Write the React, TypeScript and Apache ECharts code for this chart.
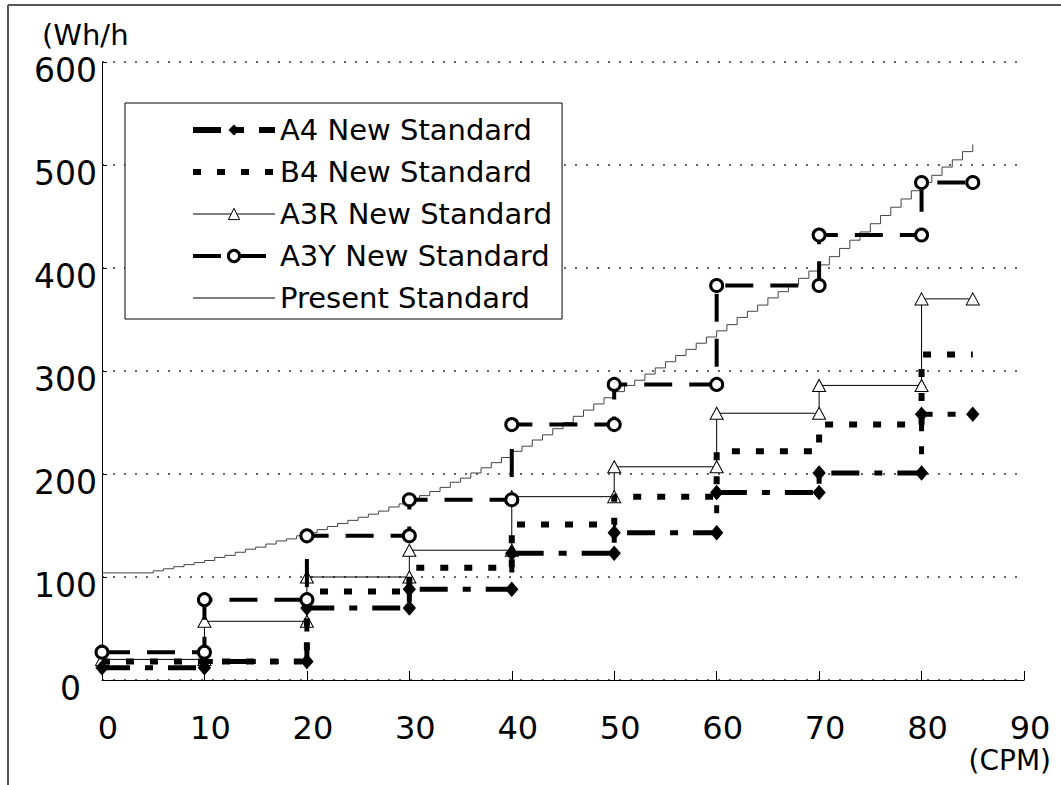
import { useEffect, useRef } from "react";
import * as echarts from "echarts";

// Step boundaries (CPM) for the new-standard categories
const CPM_EDGES = [0, 10, 20, 30, 40, 50, 60, 70, 80, 85];

// Values (Wh/h) of each step, one per interval between edges
const A4_NEW = [12, 18, 70, 88, 123, 143, 182, 201, 258];
const B4_NEW = [18, 18, 86, 109, 151, 178, 222, 248, 316];
const A3R_NEW = [20, 57, 100, 126, 178, 207, 259, 286, 370];
const A3Y_NEW = [27, 78, 140, 175, 248, 287, 383, 432, 483];

// Present standard, value at each integer CPM 0..85
const PRESENT = [
  104, 104, 104, 104, 104, 106, 108, 110, 112, 114,
  116, 119, 121, 124, 127, 129, 132, 135, 137, 140,
  143, 146, 149, 152, 155, 158, 161, 164, 168, 171,
  175, 179, 183, 187, 192, 196, 201, 206, 211, 216,
  222, 227, 233, 238, 244, 250, 256, 262, 268, 274,
  280, 286, 291, 297, 303, 309, 315, 321, 327, 333,
  339, 345, 352, 358, 364, 371, 377, 384, 390, 397,
  403, 411, 419, 427, 435, 443, 451, 459, 467, 475,
  483, 490, 498, 505, 513, 520,
];

const SERIES_NAMES = [
  "A4 New Standard",
  "B4 New Standard",
  "A3R New Standard",
  "A3Y New Standard",
  "Present Standard",
];

const Y_UNIT = "(Wh/h";
const X_UNIT = "(CPM)";

const FONT = "DejaVu Sans";

const A4_DASH = [28, 15, 8, 15];
const B4_DASH = [8, 16];
const A3Y_DASH = [28, 17];

function stepPoints(values: number[]): number[][] {
  const pts: number[][] = [];
  values.forEach((v, i) => {
    pts.push([CPM_EDGES[i], v]);
    pts.push([CPM_EDGES[i + 1], v]);
  });
  return pts;
}

const HIDDEN_SYMBOL = {
  color: "rgba(0,0,0,0)",
  borderColor: "rgba(0,0,0,0)",
  borderWidth: 0,
  opacity: 0,
};

export default function App() {
  const ref = useRef<HTMLDivElement>(null);

  useEffect(() => {
    if (!ref.current) return;
    const chart = echarts.init(ref.current, undefined, { renderer: "svg" });

    const option: any = {
      animation: false,
      backgroundColor: "#fff",
      textStyle: { fontFamily: FONT, color: "#000" },
      grid: { left: 102, right: 37, top: 62, bottom: 105 },
      xAxis: {
        type: "value",
        min: 0,
        max: 90,
        interval: 10,
        axisLine: { show: true, lineStyle: { color: "#000", width: 1 } },
        axisTick: { show: true, inside: true, length: 9, lineStyle: { color: "#000" } },
        axisLabel: {
          fontSize: 32,
          color: "#000",
          margin: 32,
          fontFamily: FONT,
          padding: [0, 0, 0, 12],
        },
        splitLine: { show: false },
      },
      yAxis: {
        type: "value",
        min: 0,
        max: 600,
        interval: 100,
        axisLine: { show: true, lineStyle: { color: "#000", width: 1 } },
        axisTick: { show: true, inside: true, length: 5, lineStyle: { color: "#000" } },
        axisLabel: {
          fontSize: 33,
          color: "#000",
          margin: 5,
          fontFamily: FONT,
          verticalAlign: "top",
          lineHeight: 16,
          formatter: (v: number) => (v === 0 ? "{z|0}" : String(v)),
          rich: {
            z: {
              fontSize: 33,
              fontFamily: FONT,
              color: "#000",
              lineHeight: 16,
              padding: [0, 16, 0, 0],
            },
          },
        },
        splitLine: {
          show: true,
          lineStyle: { color: "#666", width: 2, type: [2, 9] },
        },
      },
      legend: {
        orient: "vertical",
        align: "left",
        left: 125,
        top: 103,
        padding: [12, 10, 6, 65],
        itemWidth: 82,
        itemHeight: 14,
        itemGap: 12,
        backgroundColor: "#fff",
        borderColor: "#000",
        borderWidth: 1,
        borderRadius: 0,
        textStyle: { fontSize: 29, color: "#000", fontFamily: FONT, lineHeight: 30 },
        data: [
          {
            name: SERIES_NAMES[0],
            lineStyle: { color: "#000", width: 6, type: A4_DASH },
            itemStyle: { color: "#000", borderColor: "#000" },
          },
          {
            name: SERIES_NAMES[1],
            lineStyle: { color: "#000", width: 6, type: B4_DASH },
            itemStyle: HIDDEN_SYMBOL,
          },
          {
            name: SERIES_NAMES[2],
            lineStyle: { color: "#000", width: 1, type: "solid" },
            itemStyle: { color: "#fff", borderColor: "#000", borderWidth: 1 },
          },
          {
            name: SERIES_NAMES[3],
            lineStyle: { color: "#000", width: 4, type: A3Y_DASH },
            itemStyle: { color: "#fff", borderColor: "#000", borderWidth: 3 },
          },
          {
            name: SERIES_NAMES[4],
            lineStyle: { color: "#000", width: 1, type: "solid" },
            itemStyle: HIDDEN_SYMBOL,
          },
        ],
      },
      graphic: [
        {
          type: "line",
          shape: { x1: 8, y1: 5, x2: 1061, y2: 5 },
          style: { stroke: "#555", lineWidth: 2 },
        },
        {
          type: "line",
          shape: { x1: 8, y1: 5, x2: 8, y2: 785 },
          style: { stroke: "#555", lineWidth: 2 },
        },
        {
          type: "text",
          left: 42,
          top: 20,
          style: { text: Y_UNIT, fontSize: 29, fill: "#000", fontFamily: FONT },
        },
        {
          type: "text",
          right: 10,
          top: 746,
          style: { text: X_UNIT, fontSize: 28, fill: "#000", fontFamily: FONT },
        },
      ],
      series: [
        {
          name: SERIES_NAMES[0],
          type: "line",
          data: stepPoints(A4_NEW),
          symbol: "diamond",
          symbolSize: [12, 14],
          lineStyle: { color: "#000", width: 5, type: A4_DASH, cap: "butt" },
          itemStyle: { color: "#000", borderColor: "#000" },
          z: 5,
        },
        {
          name: SERIES_NAMES[1],
          type: "line",
          data: stepPoints(B4_NEW),
          symbol: "none",
          lineStyle: { color: "#000", width: 6, type: B4_DASH, cap: "butt" },
          itemStyle: { color: "#000" },
          z: 4,
        },
        {
          name: SERIES_NAMES[2],
          type: "line",
          data: stepPoints(A3R_NEW),
          symbol: "triangle",
          symbolSize: [13, 12],
          lineStyle: { color: "#000", width: 1 },
          itemStyle: { color: "#fff", borderColor: "#000", borderWidth: 1 },
          z: 3,
        },
        {
          name: SERIES_NAMES[3],
          type: "line",
          data: stepPoints(A3Y_NEW),
          symbol: "circle",
          symbolSize: 12,
          lineStyle: { color: "#000", width: 4, type: A3Y_DASH, cap: "butt" },
          itemStyle: { color: "#fff", borderColor: "#000", borderWidth: 3 },
          z: 6,
        },
        {
          name: SERIES_NAMES[4],
          type: "line",
          step: "end",
          data: PRESENT.map((v, i) => [i, v]),
          symbol: "none",
          lineStyle: { color: "#444", width: 1 },
          itemStyle: { color: "#444" },
          z: 2,
        },
      ],
    };

    chart.setOption(option);
    return () => chart.dispose();
  }, []);

  return (
    <div
      ref={ref}
      style={{ position: "absolute", left: 0, top: 0, width: 1061, height: 785 }}
    />
  );
}
